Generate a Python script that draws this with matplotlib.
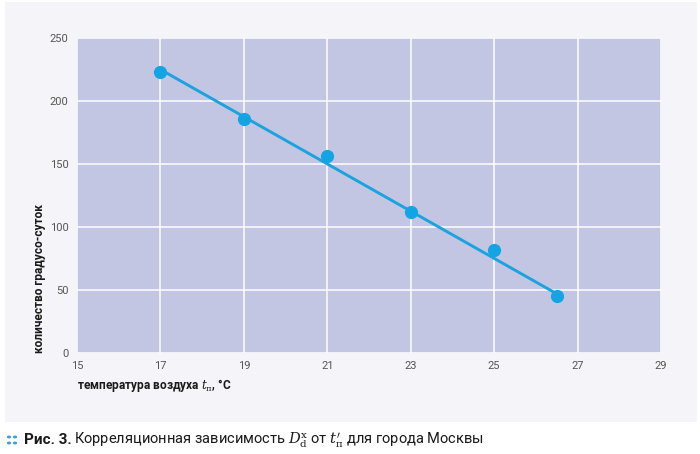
import matplotlib.pyplot as plt
from matplotlib.patches import Rectangle, Circle

# measured points
temps = [17, 19, 21, 23, 25, 26.5]
degree_days = [223, 186, 156, 112, 82, 45]

# correlation (trend) line end points
trend_x = [17, 26.5]
trend_y = [225, 47]

x_ticks = [15, 17, 19, 21, 23, 25, 27, 29]
y_ticks = [0, 50, 100, 150, 200, 250]

plt.rcParams['font.family'] = ['Roboto', 'DejaVu Sans']
plt.rcParams['mathtext.fontset'] = 'dejavuserif'

fig = plt.figure(figsize=(7.0, 4.54), dpi=100)
fig.patch.set_facecolor('white')

# light panel behind the chart
fig.add_artist(Rectangle((5 / 700, 1 - 422 / 454), 692 / 700, 420 / 454,
                         transform=fig.transFigure, facecolor='#f4f4f9',
                         edgecolor='none', zorder=0))

ax = fig.add_axes([77 / 700, 1 - 353 / 454, 584 / 700, 315 / 454])
ax.set_facecolor('#c3c6e2')
ax.set_zorder(1)

ax.plot(trend_x, trend_y, color='#1ba3df', linewidth=2.1, zorder=3)
ax.plot(temps, degree_days, 'o', color='#13a5e3', markersize=8.5, zorder=4)

ax.set_xlim(15, 29)
ax.set_ylim(0, 250)
ax.set_xticks(x_ticks)
ax.set_yticks(y_ticks)
ax.grid(True, color='white', linewidth=1.1)
ax.set_axisbelow(True)
for s in ax.spines.values():
    s.set_visible(False)
ax.tick_params(length=0, labelsize=8, labelcolor='#555555', pad=6)

ax.set_xlabel(r'температура воздуха $t_{\mathrm{п}}$, °C', fontsize=8.6,
              fontweight='bold', color='#1a1a1a', loc='left', labelpad=4)
ax.set_ylabel('количество градусо-суток', fontsize=8.6, fontweight='bold',
              color='#1a1a1a', loc='bottom', labelpad=3)

# caption
for cx, cy in [(9, 437), (15, 437), (9, 443), (15, 443)]:
    fig.add_artist(Circle((cx / 700, 1 - cy / 454), 2.2 / 700,
                          transform=fig.transFigure, facecolor='#3d9fd6',
                          edgecolor='none'))
fig.text(24 / 700, 1 - 440 / 454, 'Рис. 3.', fontsize=11, fontweight='bold',
         color='#1a1a1a', va='center')
fig.text(74 / 700, 1 - 440 / 454,
         r'Корреляционная зависимость $D_{\mathrm{d}}^{\mathrm{x}}$ от $t^{\prime}_{\mathrm{п}}$ для города Москвы',
         fontsize=10.5, color='#1a1a1a', va='center')

fig.savefig('out.png', dpi=100)
